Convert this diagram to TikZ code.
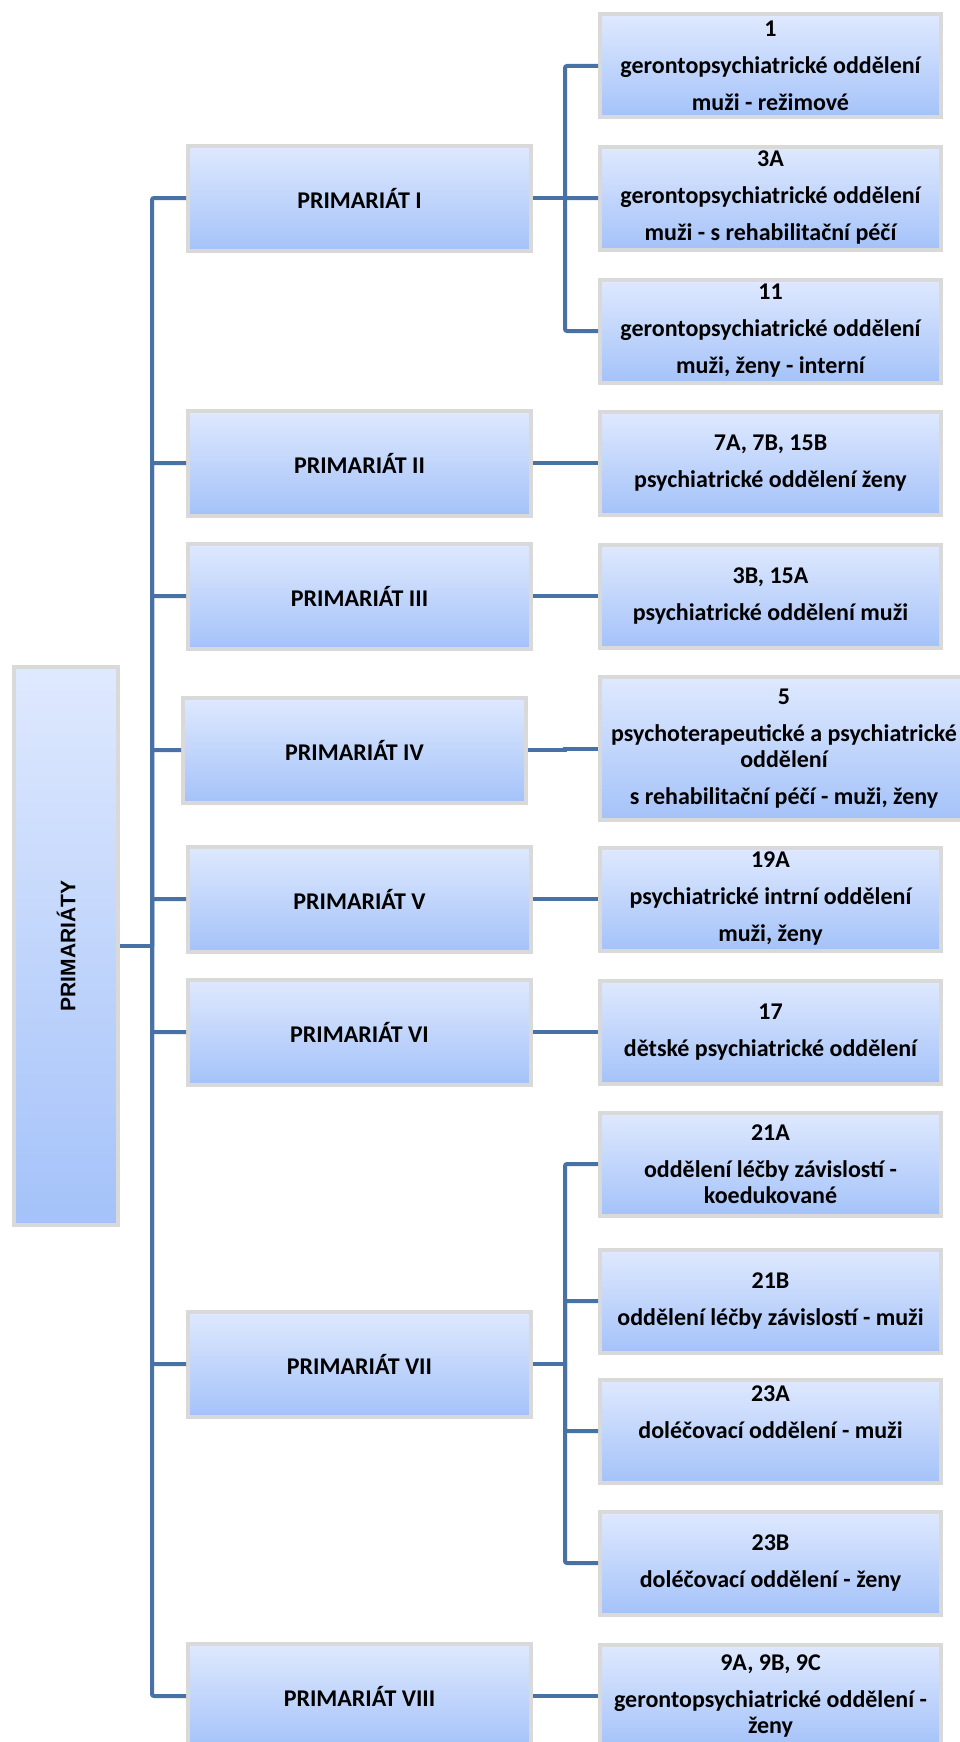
\documentclass[tikz,border=0pt]{standalone}
\usepackage{fontspec}
\setmainfont{Carlito}
\newfontfamily\rootfont{Liberation Sans}
\usepackage{graphicx}
\usetikzlibrary{positioning}
\definecolor{boxtop}{RGB}{223,233,254}
\definecolor{boxbottom}{RGB}{164,194,249}
\definecolor{boxrim}{RGB}{217,217,217}
\definecolor{branch}{RGB}{72,114,165}

\begin{document}
\begin{tikzpicture}[x=1pt,y=-1pt]
\tikzstyle{unit}=[rectangle,draw=boxrim,line width=4pt,top color=boxtop,bottom color=boxbottom,
inner sep=0pt,align=center,font=\bfseries\fontsize{24}{26}\selectfont]
\tikzstyle{primariat}=[unit,minimum width=343pt,minimum height=105pt]
\tikzstyle{dept}=[unit,minimum width=341pt,minimum height=103pt]
\tikzstyle{link}=[draw=branch,line width=4pt,rounded corners=2pt]
\useasboundingbox (0,0) rectangle (960,1742);
\node[unit,minimum width=104pt,minimum height=558pt] (primariaty) at (66,946)
  {\rotatebox{90}{\rootfont\fontsize{21}{24}\selectfont PRIMARIÁTY}};
\node[primariat] (prim I) at (359.5,198) {PRIMARIÁT I};
\node[primariat] (prim II) at (359.5,463) {PRIMARIÁT II};
\node[primariat] (prim III) at (359.5,596) {PRIMARIÁT III};
\node[primariat] (prim IV) at (354.5,750) {PRIMARIÁT IV};
\node[primariat] (prim V) at (359.5,899) {PRIMARIÁT V};
\node[primariat] (prim VI) at (359.5,1032) {PRIMARIÁT VI};
\node[primariat] (prim VII) at (359.5,1364) {PRIMARIÁT VII};
\node[primariat] (prim VIII) at (359.5,1696) {PRIMARIÁT VIII};
\node[dept] (odd 1) at (770.5,66) {1\\[11pt]gerontopsychiatrické oddělení\\[11pt]muži - režimové};
\node[dept] (odd 3A) at (770.5,198) {3A\\[11pt]gerontopsychiatrické oddělení\\[11pt]muži - s rehabilitační péčí};
\node[dept] (odd 11) at (770.5,331) {11\\[11pt]gerontopsychiatrické oddělení\\[11pt]muži, ženy - interní};
\node[dept] (odd 7A) [right=65pt of prim II] {7A, 7B, 15B\\[11pt]psychiatrické oddělení ženy};
\node[dept] (odd 3B) [right=65pt of prim III] {3B, 15A\\[11pt]psychiatrické oddělení muži};
\node[dept,minimum width=368pt,minimum height=143pt] (odd 5) at (784,748.5)
  {5\\[11pt]psychoterapeutické a psychiatrické\\oddělení\\[11pt]s rehabilitační péčí - muži, ženy};
\node[dept] (odd 19A) [right=65pt of prim V] {19A\\[11pt]psychiatrické intrní oddělení\\[11pt]muži, ženy};
\node[dept] (odd 17) [right=65pt of prim VI] {17\\[11pt]dětské psychiatrické oddělení};
\node[dept] (odd 21A) at (770.5,1164) {21A\\[11pt]oddělení léčby závislostí -\\koedukované};
\node[dept] (odd 21B) at (770.5,1301) {21B\\[11pt]oddělení léčby závislostí - muži};
\node[dept] (odd 23A) at (770.5,1431) {23A\\[11pt]doléčovací oddělení - muži\\[11pt]~};
\node[dept] (odd 23B) at (770.5,1563) {23B\\[11pt]doléčovací oddělení - ženy};
\node[dept] (odd 9A) [right=65pt of prim VIII] {9A, 9B, 9C\\[11pt]gerontopsychiatrické oddělení -\\ženy};
\coordinate (trunk) at (152,946);
\coordinate (fork I) at (565,198);
\coordinate (fork VII) at (565,1364);
\draw[link] (primariaty.east) -- (trunk);
\foreach \p in {I,II,III,IV,V,VI,VII,VIII}
  \draw[link] (trunk) |- (prim \p.west);
\draw[link] (prim I.east) -- (fork I);
\foreach \d in {1,3A,11}
  \draw[link] (fork I) |- (odd \d.west);
\draw[link] (prim VII.east) -- (fork VII);
\foreach \d in {21A,21B,23A,23B}
  \draw[link] (fork VII) |- (odd \d.west);
\draw[link] (prim II.east) -- (odd 7A.west);
\draw[link] (prim III.east) -- (odd 3B.west);
\draw[link,sharp corners] (prim IV.east) -- ++(37,0) |- (odd 5.west);
\draw[link] (prim V.east) -- (odd 19A.west);
\draw[link] (prim VI.east) -- (odd 17.west);
\draw[link] (prim VIII.east) -- (odd 9A.west);
\end{tikzpicture}
\end{document}
